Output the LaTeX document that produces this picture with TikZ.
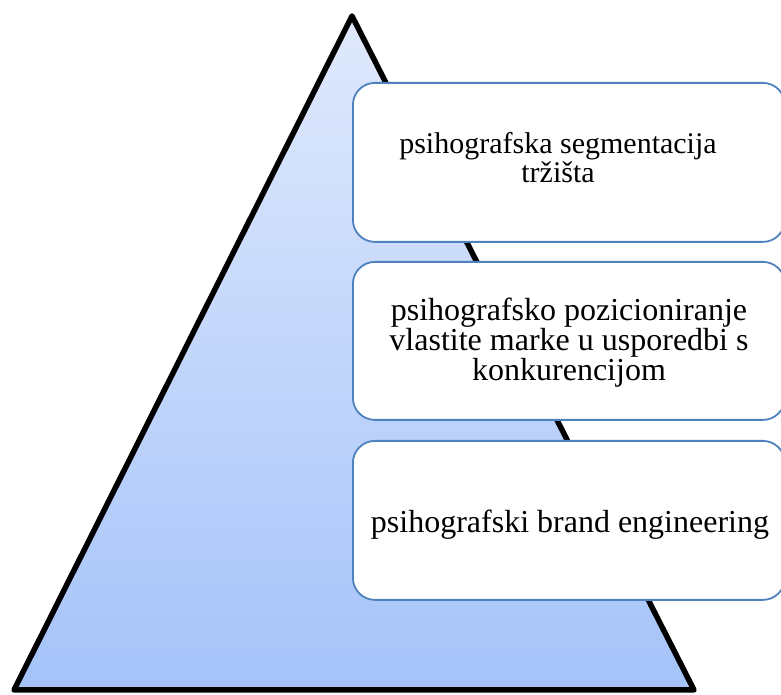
\documentclass[tikz,border=0pt]{standalone}
\usepackage{fontspec}
\setmainfont{Liberation Serif}
\definecolor{triTop}{HTML}{E0E9FC}
\definecolor{triBot}{HTML}{A5C3F9}
\definecolor{boxLine}{HTML}{4F81BD}
\tikzset{
  tri/.style={draw=black, line width=5.5pt, line join=round, top color=triTop, bottom color=triBot},
  boxnode/.style={draw=boxLine, line width=1.8pt, fill=white, rounded corners=22pt, inner sep=0pt},
  label/.style={align=center, inner sep=0pt, font=\fontsize{32}{28}\selectfont},
  labelsmall/.style={align=center, inner sep=0pt, font=\fontsize{30}{29}\selectfont}
}
\begin{document}
\begin{tikzpicture}[x=1pt,y=1pt]
\useasboundingbox (0,0) rectangle (781,695);
\clip (0,0) rectangle (781,695);
\coordinate (apex) at (352,679);
\coordinate (bl) at (14,5);
\coordinate (br) at (694,5);
\path[tri] (apex) -- (bl) -- (br) -- cycle;
\node[boxnode, minimum width=432pt, minimum height=159pt, anchor=north west] (b1) at (352,613) {};
\node[boxnode, minimum width=432pt, minimum height=158pt, anchor=north west] (b2) at (352,434) {};
\node[boxnode, minimum width=432pt, minimum height=159pt, anchor=north west] (b3) at (352,255) {};
\node[labelsmall] (t1) at (558,537.5) {psihografska segmentacija\\tržišta};
\node[label] (t2) at (569,352.5) {psihografsko pozicioniranje\\vlastite marke u usporedbi s\\konkurencijom};
\node[label] (t3) at (570,170) {psihografski brand engineering};
\end{tikzpicture}
\end{document}
